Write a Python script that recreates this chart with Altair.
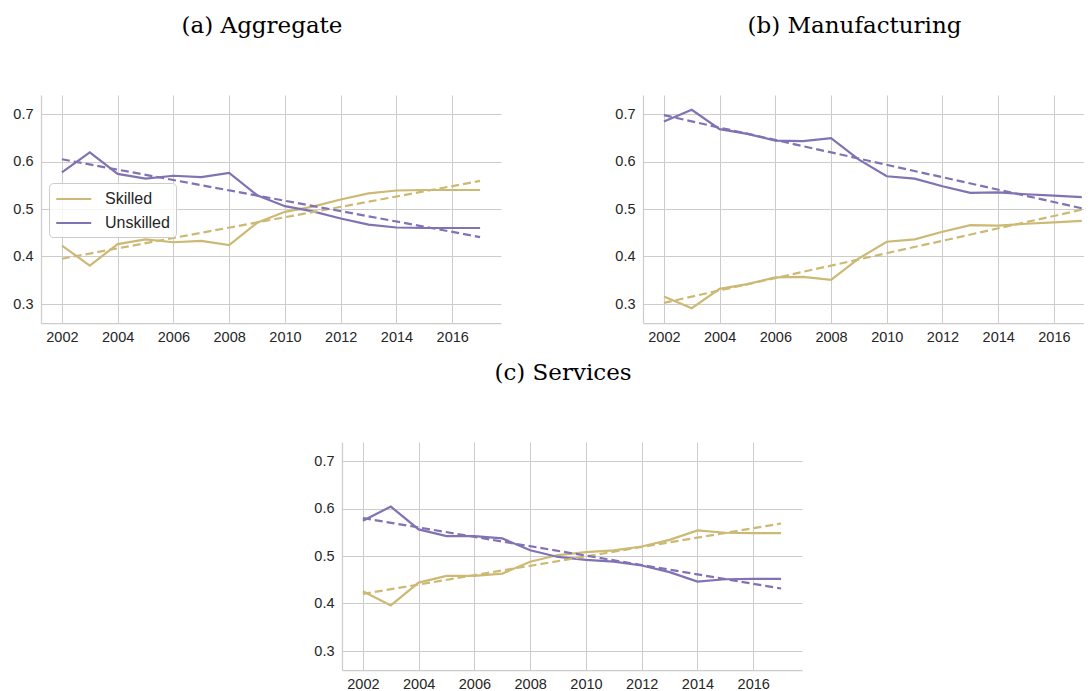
import altair as alt
import pandas as pd

years = list(range(2002, 2018))
groups = ["Skilled", "Unskilled"]
colors = ["#CCB974", "#8172B3"]

agg_skilled = [0.423, 0.381, 0.426, 0.436, 0.430, 0.433, 0.424, 0.471,
               0.494, 0.505, 0.520, 0.533, 0.539, 0.540, 0.540, 0.540]
agg_unskilled = [0.577, 0.619, 0.574, 0.564, 0.570, 0.567, 0.576, 0.529,
                 0.506, 0.495, 0.480, 0.467, 0.461, 0.460, 0.460, 0.460]
man_skilled = [0.316, 0.291, 0.332, 0.342, 0.356, 0.357, 0.351, 0.396,
               0.431, 0.436, 0.452, 0.466, 0.465, 0.469, 0.472, 0.475]
man_unskilled = [0.684, 0.709, 0.668, 0.658, 0.644, 0.643, 0.649, 0.604,
                 0.569, 0.564, 0.548, 0.534, 0.535, 0.531, 0.528, 0.525]
ser_skilled = [0.426, 0.396, 0.444, 0.458, 0.458, 0.463, 0.488, 0.502,
               0.508, 0.512, 0.520, 0.534, 0.554, 0.549, 0.548, 0.548]
ser_unskilled = [0.574, 0.604, 0.556, 0.542, 0.542, 0.537, 0.512, 0.498,
                 0.492, 0.488, 0.480, 0.466, 0.446, 0.451, 0.452, 0.452]

x_ticks = [2002, 2004, 2006, 2008, 2010, 2012, 2014, 2016]
y_ticks = [0.3, 0.4, 0.5, 0.6, 0.7]

rows = []
for panel, sk, un in [("agg", agg_skilled, agg_unskilled),
                      ("man", man_skilled, man_unskilled),
                      ("ser", ser_skilled, ser_unskilled)]:
    for yr, s, u in zip(years, sk, un):
        rows.append({"panel": panel, "year": yr, "group": "Skilled", "share": s})
        rows.append({"panel": panel, "year": yr, "group": "Unskilled", "share": u})
df = pd.DataFrame(rows)

SERIF = "DejaVu Serif"


def panel_chart(name, title, width, xmax, legend=None):
    base = alt.Chart(df).transform_filter(alt.datum.panel == name)
    x = alt.X("year:Q",
              scale=alt.Scale(domain=[2001.25, xmax], nice=False, zero=False),
              axis=alt.Axis(values=x_ticks, format="d", title=None, labelPadding=7))
    y = alt.Y("share:Q",
              scale=alt.Scale(domain=[0.26, 0.74], nice=False, zero=False),
              axis=alt.Axis(values=y_ticks, format=".1f", title=None,
                            labelPadding=8, minExtent=33))
    color = alt.Color("group:N", scale=alt.Scale(domain=groups, range=colors),
                      legend=legend, title=None)
    line = base.mark_line(strokeWidth=2.2, clip=True).encode(x=x, y=y, color=color)
    trend = (base.transform_regression("year", "share", groupby=["group"])
             .mark_line(strokeWidth=2.2, strokeDash=[8, 4], clip=True)
             .encode(x=x, y=y, color=alt.Color("group:N",
                                                scale=alt.Scale(domain=groups, range=colors),
                                                legend=None)))
    return alt.layer(line, trend).properties(
        width=width, height=228,
        title=alt.TitleParams(text=title, anchor="middle", frame="group", dx=-9,
                              offset=39, font=SERIF, fontSize=23,
                              fontWeight="normal", color="black",
                              baseline="alphabetic"))


legend_a = alt.Legend(orient="none", legendX=8, legendY=88,
                      symbolType="M-1,0H3", symbolStrokeWidth=2.2, symbolSize=306,
                      symbolDash=[1, 0],
                      labelFont="Liberation Sans", labelFontSize=16,
                      labelColor="#262626", fillColor="rgba(255,255,255,0.8)",
                      strokeColor="#cccccc", cornerRadius=4, padding=6,
                      rowPadding=6, labelOffset=30)

chart_a = panel_chart("agg", "(a) Aggregate", 460, 2017.75, legend=legend_a)
chart_b = panel_chart("man", "(b) Manufacturing", 441, 2017.08)
chart_c = panel_chart("ser", "(c) Services", 460, 2017.75)

spacer = (alt.Chart(pd.DataFrame({"v": [0]})).mark_point(opacity=0)
          .encode(x=alt.X("v:Q", axis=None), y=alt.Y("v:Q", axis=None))
          .properties(width=248, height=1))

top = alt.hconcat(chart_a, chart_b, spacing=109).resolve_scale(color="independent")
bottom = alt.hconcat(spacer, chart_c, spacing=20).resolve_scale(color="independent")
chart = (alt.vconcat(top, bottom, spacing=18)
         .resolve_scale(color="independent")
         .properties(padding={"left": 0, "top": 7, "right": 0, "bottom": 0})
         .configure_view(stroke=None)
         .configure_axis(domainColor="#cccccc", domainWidth=1.25,
                         gridColor="#cccccc", gridWidth=1, ticks=False,
                         labelFont="Liberation Sans", labelFontSize=14.5,
                         labelColor="#262626"))

chart.save("out.html", embed_options={"renderer": "svg", "actions": False})
